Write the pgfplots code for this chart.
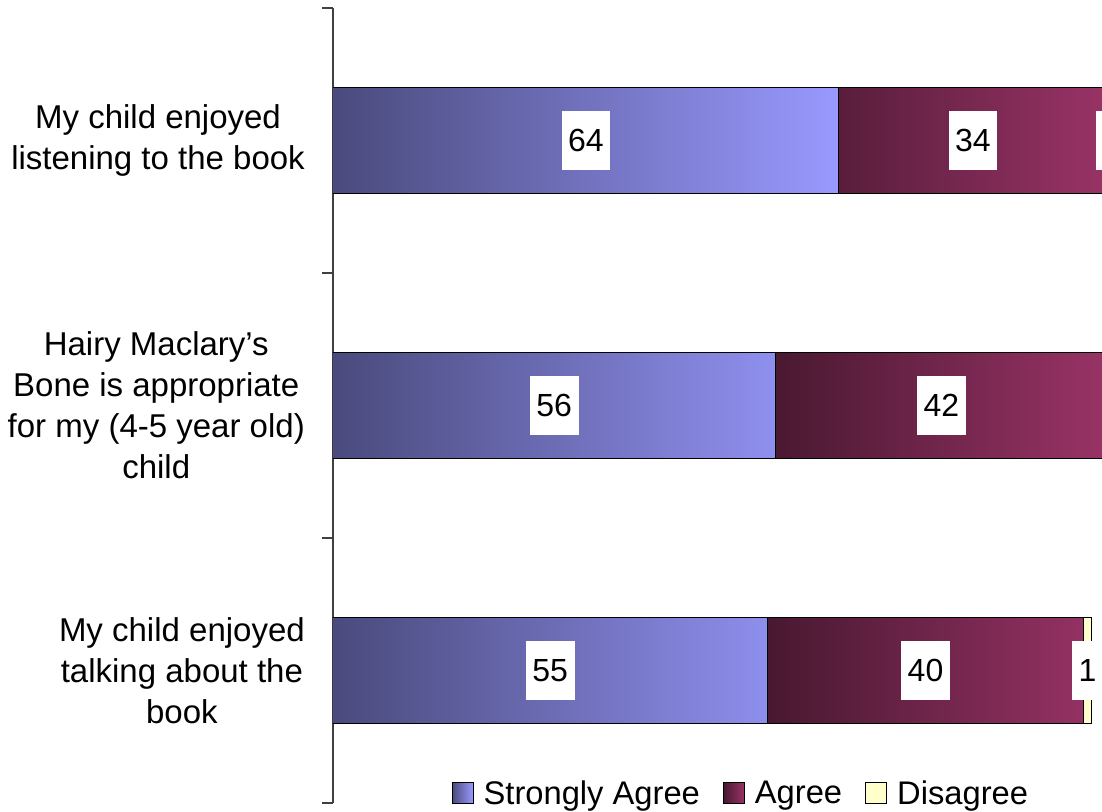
\documentclass[border=0pt]{standalone}
\usepackage{fontspec}
\setmainfont{Liberation Sans}
\usepackage{pgfplots}
\pgfplotsset{compat=1.18}
\definecolor{saL}{RGB}{74,74,125}
\definecolor{saR}{RGB}{153,153,255}
\definecolor{agL}{RGB}{72,24,48}
\definecolor{agR}{RGB}{153,51,102}
\definecolor{dis}{RGB}{255,255,204}
\begin{document}
\begin{tikzpicture}
\begin{axis}[
  x=7.9pt, y=265pt,
  xmin=0, xmax=97.35,
  ymin=-0.5, ymax=2.5,
  y dir=reverse,
  xbar stacked,
  bar width=106pt,
  axis x line=none,
  axis y line*=left,
  axis line style={black!75, line width=1.5pt},
  ytick={0,1,2},
  yticklabels={{My child enjoyed\\listening to the book},
               {Hairy Maclary's\\Bone is appropriate\\for my (4-5 year old)\\child},
               {My child enjoyed\\talking about the\\book}},
  minor ytick={-0.5,0.5,1.5,2.5},
  tick align=outside,
  major tick length=0pt,
  minor tick length=11pt,
  minor tick style={black!75, line width=1.5pt},
  yticklabel style={font=\fontsize{33}{41}\selectfont, align=center, inner sep=0pt, xshift=-28pt},
  legend columns=3,
  legend style={at={(0.529,0.0126)}, anchor=center, draw=none, fill=none,
    font=\fontsize{32.7}{38}\selectfont,
    nodes={inner xsep=0pt, inner ysep=1pt},
    /tikz/every odd column/.append style={column sep=10pt},
    /tikz/every even column/.append style={column sep=23pt}},
  legend image code/.code={\draw[#1, draw=black, line width=1pt] (0pt,-10.5pt) rectangle (21pt,10.5pt);},
]
\addplot[draw=black, line width=1pt, left color=saL, right color=saR]
  coordinates {(64,0) (56,1) (55,2)};
\addplot[draw=black, line width=1pt, left color=agL, right color=agR]
  coordinates {(34,0) (42,1) (40,2)};
\addplot[draw=black, line width=1pt, fill=dis]
  coordinates {(1,0) (0,1) (1,2)};
\legend{Strongly Agree, Agree, Disagree}
\end{axis}
\begin{axis}[
  x=7.9pt, y=265pt,
  xmin=0, xmax=97.35,
  ymin=-0.5, ymax=2.5,
  y dir=reverse,
  hide axis,
  clip=false,
]
\addplot[draw=none, mark=none, nodes near coords, point meta=explicit symbolic,
  every node near coord/.style={anchor=center, fill=white, text=black,
    font=\fontsize{32}{38}\selectfont, minimum height=59pt, inner xsep=6.5pt, inner ysep=0pt}]
  coordinates {(32,0) [64] (81,0) [34] (98.5,0) [1]
               (28,1) [56] (77,1) [42]
               (27.5,2) [55] (75,2) [40] (95.5,2) [1]};
\end{axis}
\pgfresetboundingbox
\useasboundingbox (-333pt,-8pt) rectangle (769pt,803pt);
\end{tikzpicture}
\end{document}
